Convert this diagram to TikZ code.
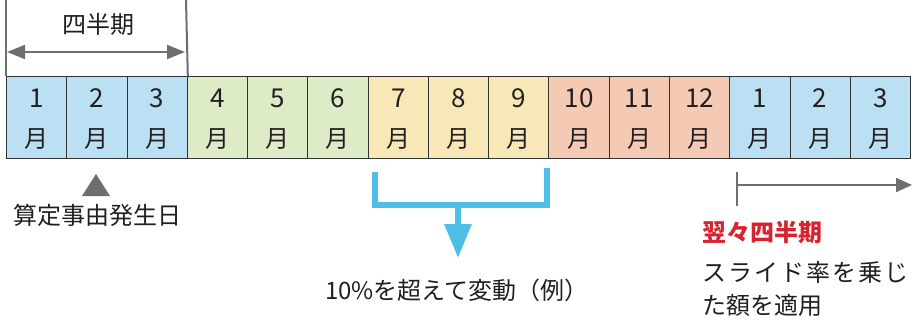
\documentclass[tikz,border=0pt]{standalone}
\usepackage{fontspec}
\setmainfont{Noto Sans CJK JP}
\usetikzlibrary{arrows.meta,calc}
\definecolor{cblue}{HTML}{BBE0F3}
\definecolor{cgreen}{HTML}{DDEBC6}
\definecolor{cyellow}{HTML}{F8E8B8}
\definecolor{corange}{HTML}{F4CAB4}
\definecolor{cgray}{HTML}{6D6E71}
\definecolor{cline}{HTML}{333333}
\definecolor{cbracket}{HTML}{4FBEE7}
\definecolor{cred}{HTML}{D7232E}
\definecolor{ctext}{HTML}{231F20}
\tikzset{
  month/.style={draw=cline, line width=1pt, minimum width=60.27pt, minimum height=82pt, inner sep=0pt, anchor=north west},
  lbl/.style={font=\fontsize{24}{28}\selectfont, text=ctext, inner sep=0pt},
  num/.style={font=\fontsize{26}{30}\selectfont, text=ctext, inner sep=0pt},
  blueline/.style={draw=cbracket, line width=6pt},
}
\begin{document}
\begin{tikzpicture}[x=1pt,y=-1pt]
\useasboundingbox (0,0) rectangle (913,322);
% months
\foreach \i/\n/\c in {1/1/cblue,2/2/cblue,3/3/cblue,4/4/cgreen,5/5/cgreen,6/6/cgreen,7/7/cyellow,8/8/cyellow,9/9/cyellow,10/10/corange,11/11/corange,12/12/corange,13/1/cblue,14/2/cblue,15/3/cblue}{
  \node[month, fill=\c] (m\i) at ({6+(\i-1)*60.27},76) {};
  \node[num] (n\i) at ($(m\i.north)+(0,22)$) {\n};
  \node[lbl] (t\i) at ($(m\i.north)+(0,63)$) {月};
}
% quarter marker
\coordinate (q1) at (6,0);
\coordinate (q2) at (186,0);
\draw[cgray, line width=2pt] (q1) -- (m1.north west);
\draw[cgray, line width=2pt] (q2) -- (m3.north east);
\coordinate (qa) at (7,52);
\coordinate (qb) at (185,52);
\draw[cgray, line width=2pt, {Triangle[length=18pt,width=14pt]}-{Triangle[length=18pt,width=14pt]}] (qa) -- (qb);
\node[lbl] (qlabel) at (98,24) {四半期};
% event triangle
\coordinate (ev) at (96,174);
\fill[cgray] (ev) -- ++(-14,22) -- ++(28,0) -- cycle;
\node[lbl] (evlabel) at (97,215) {算定事由発生日};
% blue bracket
\coordinate (bl) at (375,172);
\coordinate (br) at (547,168);
\coordinate (bm) at (458,205);
\coordinate (bt) at (458,258);
\draw[blueline] (bl) |- (bm) -| (br);
\draw[blueline, -{Triangle[length=34pt,width=26pt]}] (bm) -- (bt);
\node[lbl] (vlabel) at (457,290) {10\%を超えて変動（例）};
% next-next quarter arrow
\coordinate (ra) at (737,172);
\coordinate (rb) at (737,206);
\coordinate (rs) at (737,185);
\coordinate (re) at (912,185);
\draw[cgray, line width=2pt] (ra) -- (rb);
\draw[cgray, line width=2pt, -{Triangle[length=16pt,width=14pt]}] (rs) -- (re);
\node[lbl, anchor=west, text=cred, font=\fontsize{24}{28}\selectfont\bfseries] (rlabel) at (702,232) {翌々四半期};
\node[lbl, anchor=west, font=\fontsize{24}{28}\selectfont\addfontfeatures{LetterSpace=8.7}] (slabel1) at (702,272) {スライド率を乗じ};
\node[lbl, anchor=west] (slabel2) at (702,305) {た額を適用};
\end{tikzpicture}
\end{document}
